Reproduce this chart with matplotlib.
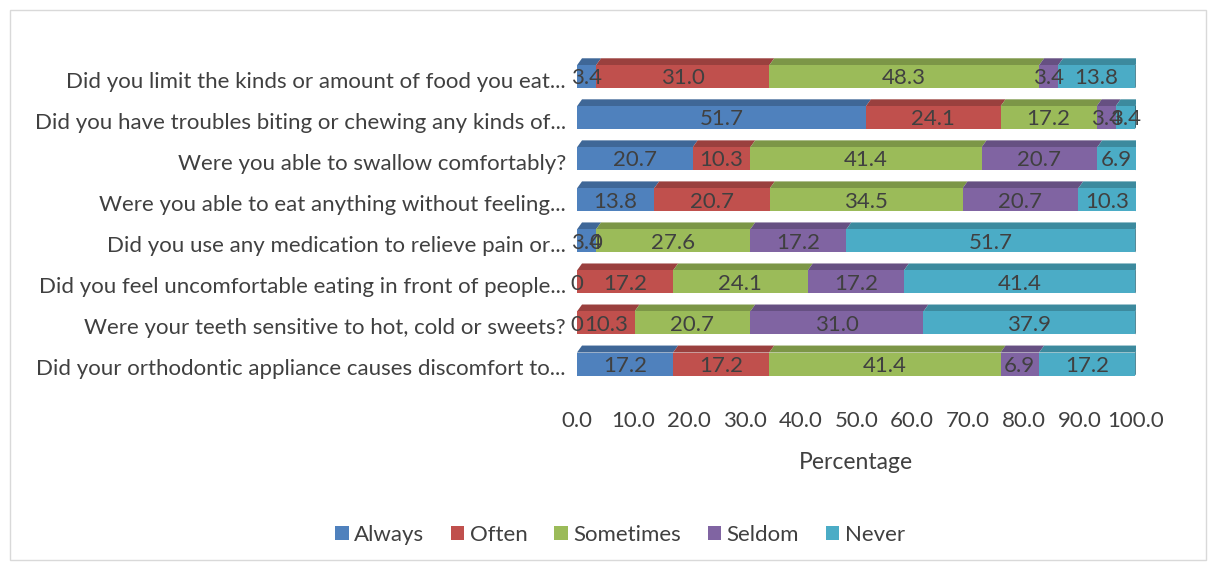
import numpy as np
import matplotlib.pyplot as plt
from matplotlib.patches import Polygon, Rectangle
from matplotlib.colors import to_rgb

plt.rcParams['font.family'] = ['Lato', 'DejaVu Sans']

questions = [
    'Did you limit the kinds or amount of food you eat...',
    'Did you have troubles biting or chewing any kinds of...',
    'Were you able to swallow comfortably?',
    'Were you able to eat anything without feeling...',
    'Did you use any medication to relieve pain or...',
    'Did you feel uncomfortable eating in front of people...',
    'Were your teeth sensitive to hot, cold or sweets?',
    'Did your orthodontic appliance causes discomfort to...',
]
series = ['Always', 'Often', 'Sometimes', 'Seldom', 'Never']
always = [3.4, 51.7, 20.7, 13.8, 3.4, 0, 0, 17.2]
often = [31.0, 24.1, 10.3, 20.7, 0, 17.2, 10.3, 17.2]
sometimes = [48.3, 17.2, 41.4, 34.5, 27.6, 24.1, 20.7, 41.4]
seldom = [3.4, 3.4, 20.7, 20.7, 17.2, 17.2, 31.0, 6.9]
never = [13.8, 3.4, 6.9, 10.3, 51.7, 41.4, 37.9, 17.2]
colors = ['#4F81BD', '#C0504D', '#9BBB59', '#8064A2', '#4BACC6']

values = np.array([always, often, sometimes, seldom, never])
ticks = np.arange(0, 101, 10)

fig = plt.figure(figsize=(12.16, 5.68), dpi=100)
fig.patches.append(Rectangle((0.008, 0.014), 0.984, 0.968, transform=fig.transFigure,
                             fill=False, edgecolor='#D9D9D9', linewidth=1))
ax = fig.add_axes([0.4745, 0.323, 0.4595, 0.578])

n = len(questions)
y = np.arange(n)[::-1]
h = 0.56
dy = 0.17   # 3d depth (y)
dx = 0.9    # 3d depth (x)
text_col = '#404040'
fs = 16


def darker(c, f=0.72):
    r, g, b = to_rgb(c)
    return (r * f, g * f, b * f)


left = np.zeros(n)
for k, (name, col) in enumerate(zip(series, colors)):
    vals = values[k]
    ax.barh(y, vals, left=left, height=h, color=col, edgecolor='none', label=name, zorder=2)
    for i in range(n):
        x0, w = left[i], vals[i]
        top = y[i] + h / 2
        if w > 0:
            ax.add_patch(Polygon([(x0, top), (x0 + dx, top + dy), (x0 + w + dx, top + dy), (x0 + w, top)],
                                 closed=True, facecolor=darker(col, 0.8), edgecolor='none', zorder=1))
        lbl = '0' if w == 0 else f'{w:.1f}'
        ax.text(x0 + w / 2, y[i] - 0.04, lbl, ha='center', va='center', fontsize=fs, color=text_col, zorder=3)
    left = left + vals

# right end faces
for i in range(n):
    top = y[i] + h / 2
    bot = y[i] - h / 2
    ax.add_patch(Polygon([(left[i], bot), (left[i], top), (left[i] + dx, top + dy), (left[i] + dx, bot + dy)],
                         closed=True, facecolor=darker(colors[-1], 0.65), edgecolor='none', zorder=1))

ax.set_xlim(0, 100)
ax.set_ylim(-0.5, n - 0.5)
ax.set_yticks(y - 0.08)
ax.set_yticklabels(questions, fontsize=fs, color=text_col)
ax.set_xticks(ticks)
ax.set_xticklabels([f'{t:.1f}' for t in ticks], fontsize=fs, color=text_col)
ax.tick_params(length=0, pad=8)
ax.tick_params(axis='x', pad=19)
ax.set_xlabel('Percentage', fontsize=16.5, color=text_col, labelpad=15)
for s in ax.spines.values():
    s.set_visible(False)

fig.legend(loc='center', bbox_to_anchor=(0.51, 0.058), ncol=5, frameon=False,
           fontsize=fs, handlelength=0.6, handleheight=0.6, handletextpad=0.25,
           columnspacing=1.2, labelcolor=text_col)

fig.savefig('out.png', dpi=100)
